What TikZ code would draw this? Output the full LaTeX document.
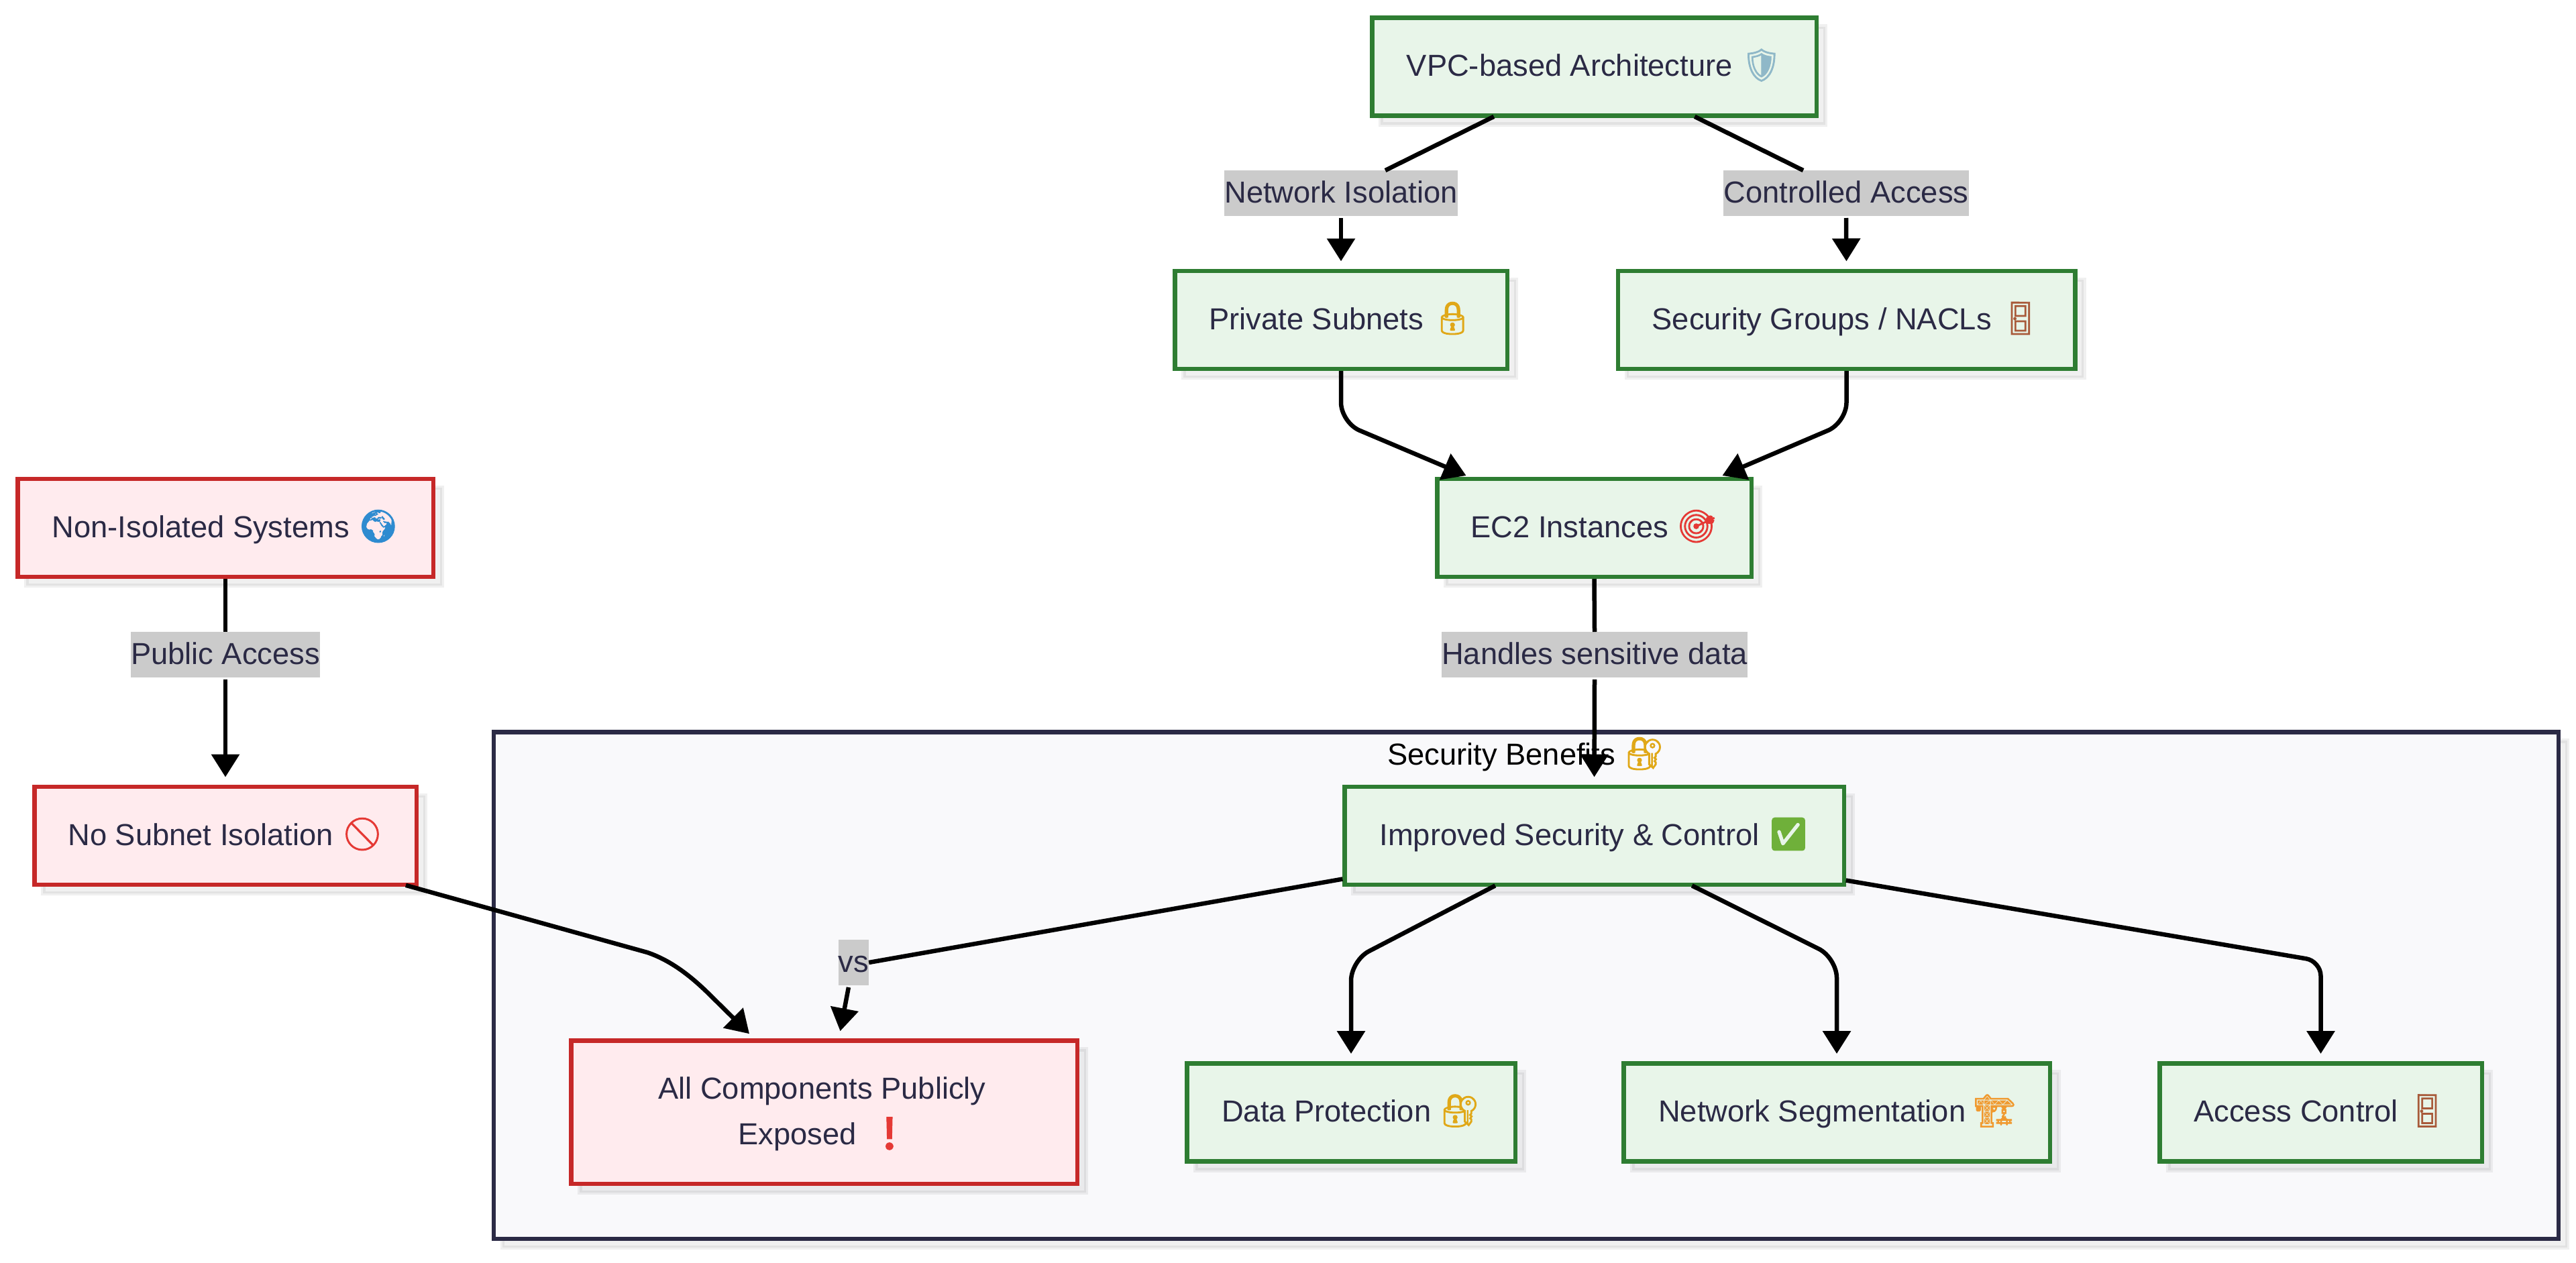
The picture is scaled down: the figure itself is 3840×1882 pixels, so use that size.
\documentclass[tikz,border=0pt]{standalone}
\usepackage{fontspec}
\setmainfont{Liberation Sans}
\newfontfamily\emojifont[FakeBold=2,Scale=1.06]{Noto Emoji}
\usetikzlibrary{arrows.meta,shadows}
\definecolor{safefill}{HTML}{E8F5E9}
\definecolor{safeline}{HTML}{2E7D32}
\definecolor{riskfill}{HTML}{FFEBEE}
\definecolor{riskline}{HTML}{C62828}
\definecolor{groupfill}{HTML}{F9F9FB}
\definecolor{groupline}{HTML}{2B2A45}
\definecolor{labelgray}{HTML}{CBCBCB}
\definecolor{inktext}{HTML}{2B2A45}
\definecolor{lockgold}{HTML}{E0A818}
\definecolor{shieldblue}{HTML}{8FB8C8}
\definecolor{doorbrown}{HTML}{A85A3A}
\definecolor{alertred}{HTML}{E53935}
\definecolor{checkgreen}{HTML}{6FB03A}
\definecolor{craneorange}{HTML}{F09A30}
\definecolor{globeblue}{HTML}{2E8BD0}
\newcommand{\emo}[2]{\textcolor{#1}{\emojifont #2}}
\tikzset{
  softshadow/.style={drop shadow={shadow xshift=13pt,shadow yshift=-13pt,draw=black,fill=black,opacity=0.06}},
  boxbase/.style={draw,line width=6.5pt,rectangle,outer sep=0pt,inner sep=0pt,minimum height=146pt,
    softshadow,text=inktext,align=center,font=\fontsize{45.3}{68}\selectfont},
  oneline/.style={text height=35pt,text depth=7pt},
  safebox/.style={boxbase,oneline,draw=safeline,fill=safefill},
  riskbox/.style={boxbase,draw=riskline,fill=riskfill},
  edgelabel/.style={fill=labelgray,text=inktext,outer sep=0pt,inner xsep=0pt,inner ysep=0pt,
    minimum height=68pt,oneline,font=\fontsize{45.3}{68}\selectfont},
  edgeline/.style={line width=6.5pt,black,shorten <=3pt},
  flow/.style={edgeline,-{Triangle[length=34pt,width=41pt]}},
  flowgap/.style={flow,shorten >=14.5pt}
}
\begin{document}
\begin{tikzpicture}[x=1pt,y=-1pt]
  \useasboundingbox (0,0) rectangle (3840,1882);
  \node [draw=groupline,fill=groupfill,line width=6.5pt,outer sep=0pt,inner sep=0pt,minimum width=3078pt,minimum height=755.5pt,softshadow] (benefits) at (2275,1469) {};
  \node [oneline,inner sep=0pt,font=\fontsize{45.3}{68}\selectfont] (benefitstitle) at (2275,1126) {Security Benefits \emo{lockgold}{🔐}};

  \node [safebox,minimum width=662.5pt] (vpc) at (2376.5,99.5) {VPC-based Architecture \emo{shieldblue}{🛡}};
  \node [safebox,minimum width=495.5pt] (private) at (1999,477) {Private Subnets \emo{lockgold}{🔒}};
  \node [safebox,minimum width=681.5pt] (groups) at (2752.5,477) {Security Groups / NACLs \emo{doorbrown}{🚪}};
  \node [safebox,minimum width=468.5pt] (ec2) at (2376.5,787) {EC2 Instances \emo{alertred}{🎯}};
  \node [safebox,minimum width=744.5pt] (improved) at (2376.5,1246) {Improved Security \& Control \emo{checkgreen}{✅}};
  \node [safebox,minimum width=489.5pt] (protection) at (2014,1658.5) {Data Protection \emo{lockgold}{🔐}};
  \node [safebox,minimum width=635.5pt] (segmentation) at (2738,1658.5) {Network Segmentation \emo{craneorange}{🏗}};
  \node [safebox,minimum width=480.5pt] (access) at (3459.5,1658.5) {Access Control \emo{doorbrown}{🚪}};

  \node [riskbox,oneline,minimum width=619.5pt] (nonisolated) at (336,787) {Non-Isolated Systems \emo{globeblue}{🌍}};
  \node [riskbox,oneline,minimum width=569.5pt] (nosubnet) at (336,1246) {No Subnet Isolation \emo{alertred}{🚫}};
  \node [riskbox,minimum width=754.5pt,minimum height=213.5pt] (exposed) at (1228.5,1658) {\rule{0pt}{38pt}All Components Publicly\hspace*{6pt}\\Exposed \hspace{6pt}\emo{alertred}{❗}};

  \node [edgelabel] (lblisolation) at (1999,288) {Network Isolation};
  \node [edgelabel] (lblcontrolled) at (2752,288) {Controlled Access};
  \node [edgelabel] (lblpublic) at (336,976) {Public Access};
  \node [edgelabel] (lblsensitive) at (2377,976) {Handles sensitive data};
  \node [edgelabel] (lblvs) at (1272.5,1435) {vs};

  \draw [edgeline] ([xshift=-147pt]vpc.south)--([xshift=66pt]lblisolation.north);
  \draw [edgeline] ([xshift=147pt]vpc.south)--([xshift=-64pt]lblcontrolled.north);
  \draw [flowgap] (lblisolation.south)--(private.north);
  \draw [flowgap] (lblcontrolled.south)--(groups.north);
  \draw [flow,rounded corners=30pt] (private.south)--(1999,630)--([xshift=-191pt,yshift=5pt]ec2.north);
  \draw [flow,rounded corners=30pt] (groups.south)--(2752.5,630)--([xshift=191pt,yshift=5pt]ec2.north);
  \draw [edgeline] (ec2.south)--(lblsensitive.north);
  \draw [flowgap] (lblsensitive.south)--(improved.north);
  \draw [edgeline] (nonisolated.south)--(lblpublic.north);
  \draw [flowgap] (lblpublic.south)--(nosubnet.north);

  \draw [flow] ([xshift=266pt]nosubnet.south)--(965,1420) .. controls (1000,1432) and (1030,1455) .. (1060,1485)--([xshift=-111.5pt,yshift=10pt]exposed.north);
  \draw [edgeline] ([yshift=-64pt]improved.west)--(lblvs.east);
  \draw [flow] ([xshift=-7pt]lblvs.south)--([xshift=24pt,yshift=14pt]exposed.north);
  \draw [flowgap,rounded corners=30pt] ([xshift=-145pt]improved.south)--(2014,1432)--(protection.north);
  \draw [flowgap,rounded corners=30pt] ([xshift=143pt]improved.south)--(2738,1428)--(segmentation.north);
  \draw [flowgap,rounded corners=22pt] ([yshift=-66pt]improved.east)--(3459.5,1433)--(access.north);
\end{tikzpicture}
\end{document}
